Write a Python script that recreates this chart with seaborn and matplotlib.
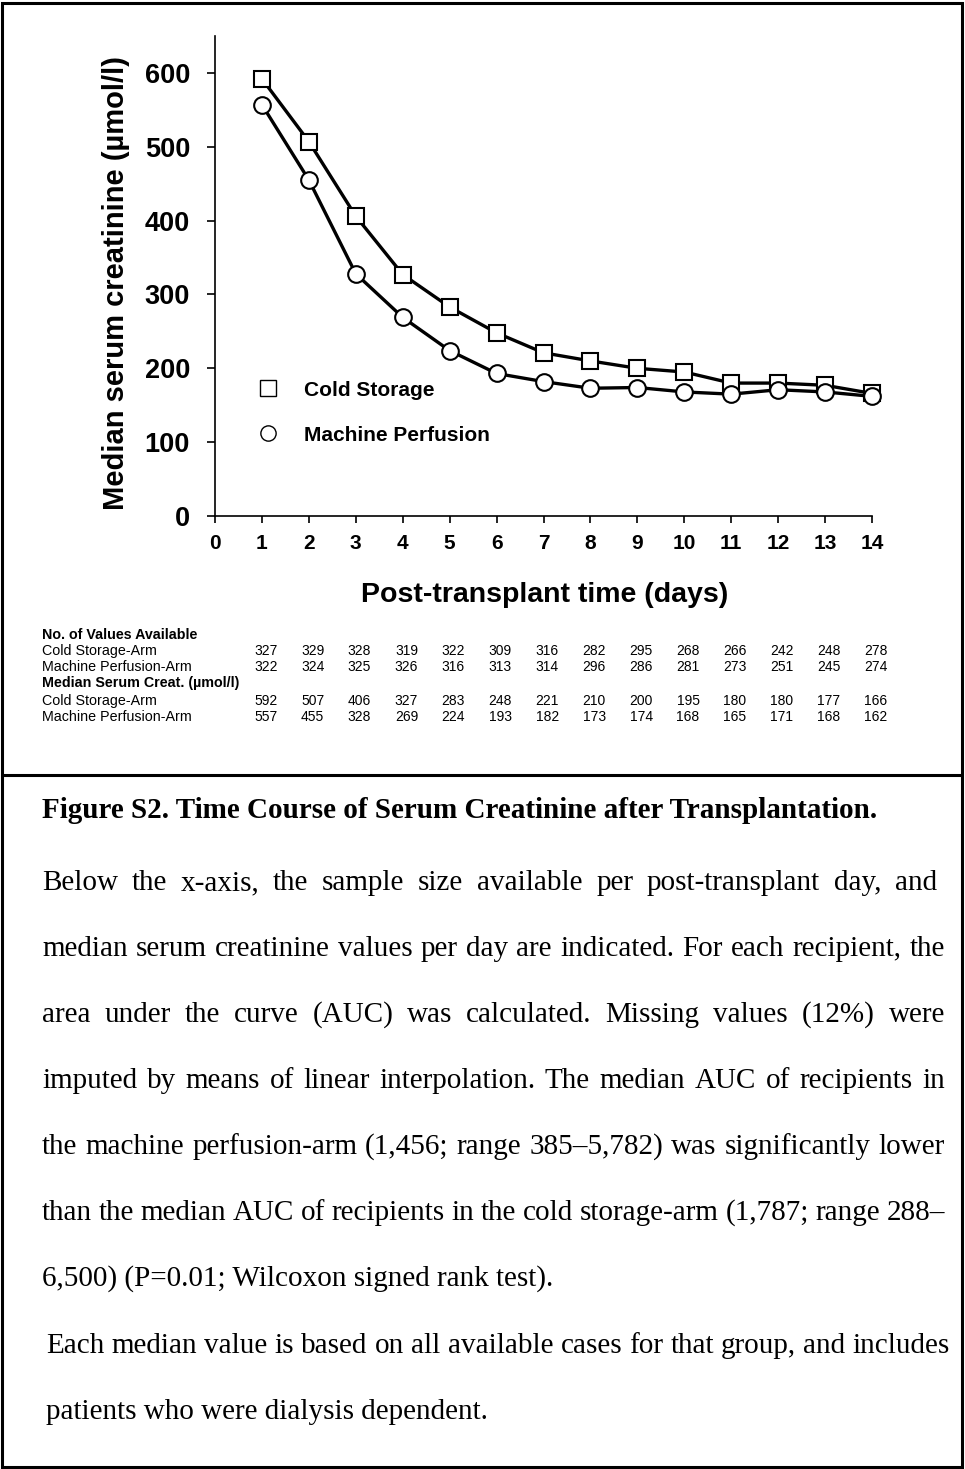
import matplotlib
matplotlib.use('Agg')
import matplotlib.pyplot as plt
import matplotlib.transforms as mtransforms
from matplotlib.lines import Line2D
from matplotlib.patches import Rectangle
import seaborn as sns

days = list(range(1, 15))
n_cold = [327, 329, 328, 319, 322, 309, 316, 282, 295, 268, 266, 242, 248, 278]
n_mp = [322, 324, 325, 326, 316, 313, 314, 296, 286, 281, 273, 251, 245, 274]
creat_cold = [592, 507, 406, 327, 283, 248, 221, 210, 200, 195, 180, 180, 177, 166]
creat_mp = [557, 455, 328, 269, 224, 193, 182, 173, 174, 168, 165, 171, 168, 162]
x_ticks = list(range(0, 15))
y_ticks = [0, 100, 200, 300, 400, 500, 600]
series_names = ['Cold Storage', 'Machine Perfusion']

table_rows = [
    ('No. of Values Available', None),
    ('Cold Storage-Arm', n_cold),
    ('Machine Perfusion-Arm', n_mp),
    ('Median Serum Creat. (\u00b5mol/l)', None),
    ('Cold Storage-Arm', creat_cold),
    ('Machine Perfusion-Arm', creat_mp),
]

caption_title = 'Figure S2. Time Course of Serum Creatinine after Transplantation.'
# (text, justified)
caption_lines = [
    ('Below the x-axis, the sample size available per post-transplant day, and', True),
    ('median serum creatinine values per day are indicated. For each recipient, the', True),
    ('area under the curve (AUC) was calculated. Missing values (12%) were', True),
    ('imputed by means of linear interpolation. The median AUC of recipients in', True),
    ('the machine perfusion-arm (1,456; range 385\u20135,782) was significantly lower', True),
    ('than the median AUC of recipients in the cold storage-arm (1,787; range 288\u2013', True),
    ('6,500) (P=0.01; Wilcoxon signed rank test).', False),
    ('Each median value is based on all available cases for that group, and includes', True),
    ('patients who were dialysis dependent.', False),
]

sns.set_style('ticks')
plt.rcParams.update({'text.color': 'black', 'axes.labelcolor': 'black', 'axes.edgecolor': 'black',
                     'xtick.color': 'black', 'ytick.color': 'black'})
plt.rcParams['font.family'] = ['Liberation Sans', 'DejaVu Sans']

W, H = 965, 1469
fig = plt.figure(figsize=(W / 100, H / 100), dpi=100)
ax = fig.add_axes([215 / W, 1 - 516 / H, 657 / W, 480 / H])

line_kw = dict(color='black', linewidth=2.4, markersize=12, markerfacecolor='white',
               markeredgecolor='black', markeredgewidth=1.5, errorbar=None, clip_on=False)
sns.lineplot(x=days, y=creat_cold, marker='s', ax=ax, **line_kw)
sns.lineplot(x=days, y=creat_mp, marker='o', ax=ax, **line_kw)

ax.set_xlim(0, 14)
ax.set_ylim(0, 650)
ax.set_xticks(x_ticks)
ax.set_yticks(y_ticks)
sns.despine(ax=ax)
for side in ['left', 'bottom']:
    ax.spines[side].set_linewidth(1.2)
ax.tick_params(axis='x', direction='out', length=5, width=1.2, pad=8, labelsize=15)
ax.tick_params(axis='y', direction='out', length=6, width=1.2, pad=12, labelsize=19.5)
for lab in ax.get_xticklabels() + ax.get_yticklabels():
    lab.set_fontweight('bold')

ax.set_xlabel('Post-transplant time (days)', fontsize=20.5, fontweight='bold', va='center')
ax.xaxis.set_label_coords(0.502, -0.165)
ax.set_ylabel('Median serum creatinine (\u00b5mol/l)', fontsize=21, fontweight='bold', va='center')
ax.yaxis.set_label_coords(-0.15, 0.485)

handles = [Line2D([], [], ls='none', marker=m, markersize=11, markerfacecolor='white',
                  markeredgecolor='black', markeredgewidth=1.0) for m in ['s', 'o']]
leg = ax.legend(handles, series_names, loc='upper left', bbox_to_anchor=(0.065, 0.282),
                frameon=False, handlelength=1.0, handletextpad=1.2, labelspacing=1.25,
                borderpad=0, borderaxespad=0, prop={'size': 15, 'weight': 'bold'})

# table of counts and medians under the axis
row_y = [635, 651, 667, 683, 701, 717]
num_trans = mtransforms.blended_transform_factory(ax.transData, fig.transFigure)
for (label, vals), y in zip(table_rows, row_y):
    fig.text(42 / W, 1 - y / H, label, fontsize=10.3, va='center', ha='left',
             fontweight='bold' if vals is None else 'normal')
    if vals is not None:
        for d, v in zip(days, vals):
            ax.text(d + 0.08, 1 - y / H, str(v), transform=num_trans, fontsize=10,
                    va='center', ha='center', family=['Liberation Sans Narrow', 'Liberation Sans'])

# caption
renderer = fig.canvas.get_renderer()
serif = ['Liberation Serif', 'DejaVu Serif']
fig.text(42 / W, 1 - 818 / H, caption_title, fontsize=21, fontweight='bold',
         family=serif, va='baseline', ha='left')

baselines = [890, 956, 1022, 1088, 1154, 1220, 1286, 1353, 1419]
lefts = [42, 42, 42, 42, 42, 42, 42, 46, 46]
rights = [937, 945, 945, 945, 945, 945, 945, 950, 950]
for (txt, justify), yb, x0, x1 in zip(caption_lines, baselines, lefts, rights):
    if not justify:
        fig.text(x0 / W, 1 - yb / H, txt, fontsize=21, family=serif, va='baseline', ha='left')
        continue
    words = [fig.text(0, 1 - yb / H, w, fontsize=21, family=serif, va='baseline', ha='left')
             for w in txt.split()]
    widths = [t.get_window_extent(renderer).width for t in words]
    gap = (x1 - x0 - sum(widths)) / (len(words) - 1)
    x = x0
    for t, w in zip(words, widths):
        t.set_x(x / W)
        x += w + gap

# page frame and separator
fig.add_artist(Rectangle((2 / W, 2 / H), 960 / W, 1464 / H, transform=fig.transFigure,
                         fill=False, edgecolor='black', linewidth=2.2))
fig.add_artist(Line2D([2 / W, 962 / W], [1 - 775 / H, 1 - 775 / H], transform=fig.transFigure,
                      color='black', linewidth=2.2))

fig.savefig('out.png', dpi=100)
